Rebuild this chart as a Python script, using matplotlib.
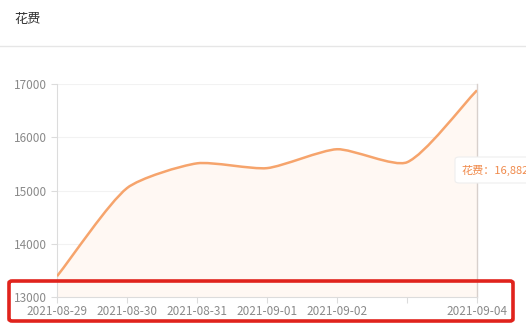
import matplotlib

matplotlib.use("Agg")
import matplotlib.pyplot as plt
import numpy as np
from matplotlib.path import Path
from matplotlib.patches import PathPatch, FancyBboxPatch

plt.rcParams["font.family"] = ["Noto Sans CJK SC", "DejaVu Sans"]

dates = ["2021-08-29", "2021-08-30", "2021-08-31", "2021-09-01",
         "2021-09-02", "2021-09-03", "2021-09-04"]
spend = [13390, 15045, 15510, 15420, 15775, 15530, 16882]
shown_labels = ["2021-08-29", "2021-08-30", "2021-08-31", "2021-09-01",
                "2021-09-02", "", "2021-09-04"]
y_ticks = [13000, 14000, 15000, 16000, 17000]

LINE = "#f6a46c"
FILL = "#fff8f3"
GRAY_TXT = "#8a8a8a"
AXIS = "#dcdcdc"

W, H = 526, 334
fig = plt.figure(figsize=(W / 100, H / 100), dpi=100)


def fx(px):
    return px / W


def fy(py):
    return 1 - py / H


ax = fig.add_axes([fx(57), fy(297), fx(477) - fx(57), fy(84) - fy(297)])
x = np.arange(len(dates))
ax.set_xlim(0, len(dates) - 1)
ax.set_ylim(13000, 17000)

# smooth bezier in display space, like echarts smooth line
fig.canvas.draw()
pts = ax.transData.transform(np.column_stack([x, spend]))
smooth = 0.22
verts = [pts[0]]
codes = [Path.MOVETO]
n = len(pts)
cps = []
for i in range(n):
    p = pts[i]
    prev = pts[max(i - 1, 0)]
    nxt = pts[min(i + 1, n - 1)]
    v = (nxt - prev) * smooth
    d0 = np.linalg.norm(p - prev)
    d1 = np.linalg.norm(p - nxt)
    s = d0 + d1 if d0 + d1 > 0 else 1
    cps.append((p - v * d0 / s, p + v * d1 / s))
for i in range(n - 1):
    verts += [cps[i][1], cps[i + 1][0], pts[i + 1]]
    codes += [Path.CURVE4] * 3
verts = ax.transData.inverted().transform(np.array(verts))
line_path = Path(verts, codes)

fill_verts = np.vstack([verts, [[x[-1], 13000], [x[0], 13000], verts[0]]])
fill_codes = codes + [Path.LINETO, Path.LINETO, Path.CLOSEPOLY]
ax.add_patch(PathPatch(Path(fill_verts, fill_codes), facecolor=FILL,
                       edgecolor="none", zorder=1))
ax.add_patch(PathPatch(line_path, facecolor="none", edgecolor=LINE,
                       linewidth=1.8, zorder=3))

for t in y_ticks[1:]:
    ax.axhline(t, color="#f2f2f2", linewidth=0.8, zorder=0)

ax.spines["top"].set_visible(False)
ax.spines["left"].set_color(AXIS)
ax.spines["bottom"].set_color(AXIS)
ax.spines["right"].set_color("#d8d0cc")
ax.spines["right"].set_linewidth(1.0)

ax.set_yticks(y_ticks)
ax.set_yticklabels([str(t) for t in y_ticks])
ax.set_xticks(x)
ax.set_xticklabels(shown_labels)
ax.tick_params(axis="both", colors=AXIS, labelcolor=GRAY_TXT, labelsize=8.5,
               length=4, width=0.8)
ax.tick_params(axis="x", pad=1.5)
ax.tick_params(axis="y", pad=3)

# header
fig.text(fx(14), fy(20), "花费", fontsize=9.5, color="#333333", va="center")
fig.add_artist(plt.Line2D([0, 1], [fy(46), fy(46)], color="#e6e6e6",
                          linewidth=1, transform=fig.transFigure))

# tooltip
tip = FancyBboxPatch((fx(455), fy(183)), fx(80), fy(157) - fy(183),
                     boxstyle="round,pad=0,rounding_size=0.008",
                     transform=fig.transFigure, facecolor="white",
                     edgecolor="#eeeeee", linewidth=0.8, zorder=10)
fig.add_artist(tip)
fig.text(fx(461), fy(170), "花费：{:,}".format(spend[-1]), fontsize=8,
         color="#f08a4b", va="center", zorder=11)

# red highlight box
box = FancyBboxPatch((fx(9), fy(321)), fx(504), fy(281) - fy(321),
                     boxstyle="round,pad=0,rounding_size=0.006",
                     transform=fig.transFigure, facecolor="none",
                     edgecolor="#e0231c", linewidth=2.6, zorder=12)
fig.add_artist(box)

fig.savefig("out.png", dpi=100)
